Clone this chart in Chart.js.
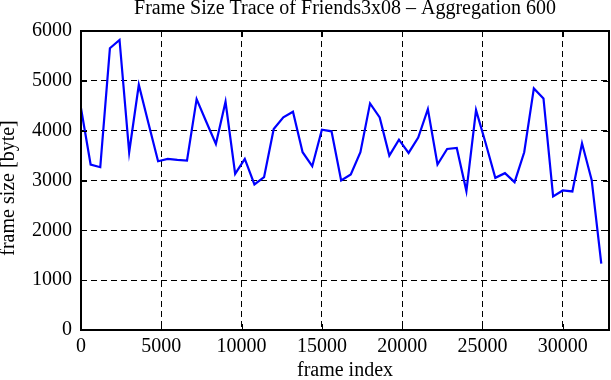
<!DOCTYPE html>
<html>
<head>
<meta charset="utf-8">
<script src="https://cdn.jsdelivr.net/npm/chart.js@4"></script>
<style>
html,body{margin:0;padding:0;background:#fff;}
#wrap{width:611px;height:380px;}
</style>
</head>
<body>
<div id="wrap"><canvas id="c" width="611" height="380"></canvas></div>
<script>
const chartTitle = "Frame Size Trace of Friends3x08 \u2013 Aggregation 600";
const xTitle = "frame index";
const yTitle = "frame size [byte]";

const frameIndex = [0,600,1200,1800,2400,3000,3600,4200,4800,5400,
  6000,6600,7200,7800,8400,9000,9600,10200,10800,11400,
  12000,12600,13200,13800,14400,15000,15600,16200,16800,17400,
  18000,18600,19200,19800,20400,21000,21600,22200,22800,23400,
  24000,24600,25200,25800,26400,27000,27600,28200,28800,29400,
  30000,30600,31200,31800,32400];
const frameSize = [4453,3320,3267,5653,5820,3567,4920,4150,3387,3433,
  3413,3400,4633,4180,3733,4580,3133,3433,2920,3067,
  4033,4267,4380,3567,3287,4020,3987,3000,3120,3567,
  4547,4267,3500,3820,3553,3860,4433,3320,3633,3653,
  2787,4413,3747,3053,3147,2967,3567,4847,4647,2680,
  2800,2780,3747,3013,1333];

const xTicks = [0,5000,10000,15000,20000,25000,30000];
const yTicks = [0,1000,2000,3000,4000,5000,6000];

const FONT = "Liberation Serif";

const framePlugin = {
  id: 'framePlugin',
  afterDraw(chart) {
    const ctx = chart.ctx;
    const a = chart.chartArea;
    const xs = chart.scales.x, ys = chart.scales.y;
    ctx.save();
    ctx.strokeStyle = '#000';
    ctx.lineWidth = 1;
    ctx.setLineDash([]);
    const tl = 6;
    ctx.beginPath();
    xTicks.forEach(v => {
      const px = Math.round(xs.getPixelForValue(v)) + 0.5;
      ctx.moveTo(px, a.bottom); ctx.lineTo(px, a.bottom - tl);
      ctx.moveTo(px, a.top); ctx.lineTo(px, a.top + tl);
    });
    yTicks.forEach(v => {
      const py = Math.round(ys.getPixelForValue(v)) + 0.5;
      ctx.moveTo(a.left, py); ctx.lineTo(a.left + tl, py);
      ctx.moveTo(a.right, py); ctx.lineTo(a.right - tl, py);
    });
    ctx.stroke();
    ctx.lineWidth = 2;
    ctx.strokeRect(a.left, a.top, a.right - a.left, a.bottom - a.top);
    ctx.fillStyle = '#000';
    ctx.font = "20px '" + FONT + "'";
    ctx.textAlign = 'center';
    ctx.textBaseline = 'middle';
    ctx.fillText(chartTitle, (a.left + a.right) / 2, 9);
    ctx.fillText(xTitle, (a.left + a.right) / 2, 371);
    ctx.translate(9, 188);
    ctx.rotate(-Math.PI / 2);
    ctx.fillText(yTitle, 0, 0);
    ctx.restore();
  }
};

new Chart(document.getElementById('c'), {
  type: 'line',
  data: {
    datasets: [{
      data: frameIndex.map((x, i) => ({x: x, y: frameSize[i]})),
      borderColor: '#0000ff',
      borderWidth: 2.2,
      pointRadius: 0,
      tension: 0,
      fill: false
    }]
  },
  options: {
    responsive: false,
    devicePixelRatio: 1,
    animation: false,
    layout: { padding: { top: 31, right: 2, left: 0, bottom: 0 } },
    plugins: { legend: { display: false }, title: { display: false }, tooltip: { enabled: false } },
    scales: {
      x: {
        type: 'linear',
        min: 0,
        max: 32880,
        afterFit: s => { s.height = 50; },
        afterBuildTicks: s => { s.ticks = xTicks.map(v => ({value: v})); },
        ticks: {
          includeBounds: false,
          maxRotation: 0,
          autoSkip: false,
          padding: 5,
          color: '#000',
          font: { family: FONT, size: 20 },
          callback: v => String(v)
        },
        grid: { color: '#000', lineWidth: 1, drawTicks: false, tickLength: 0 },
        border: { display: false, dash: [6, 4] }
      },
      y: {
        min: 0,
        max: 6000,
        afterFit: s => { s.width = 81; },
        afterBuildTicks: s => { s.ticks = yTicks.map(v => ({value: v})); },
        ticks: {
          padding: 9,
          color: '#000',
          font: { family: FONT, size: 20 },
          callback: v => String(v)
        },
        grid: { color: '#000', lineWidth: 1, drawTicks: false, tickLength: 0 },
        border: { display: false, dash: [6, 4] }
      }
    }
  },
  plugins: [framePlugin]
});
</script>
</body>
</html>
